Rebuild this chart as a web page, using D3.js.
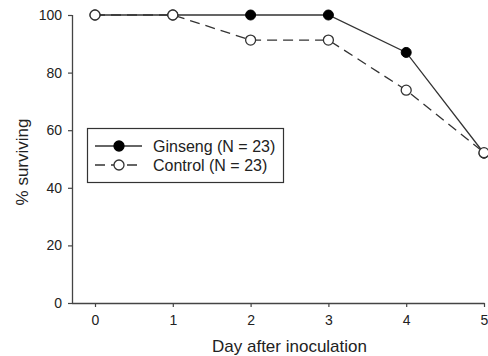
<!DOCTYPE html>
<html><head><meta charset="utf-8">
<script src="https://cdn.jsdelivr.net/npm/d3@7"></script>
<style>body{margin:0;background:#fff}svg{display:block}text{font-family:"Liberation Sans",Arial,sans-serif;fill:#222}</style>
</head><body>
<script>
const days = [0, 1, 2, 3, 4, 5];
const ginseng = [100, 100, 100, 100, 87, 52];
const control = [100, 100, 91.3, 91.3, 73.9, 52.2];
const yTicks = [0, 20, 40, 60, 80, 100];
const xTicks = [0, 1, 2, 3, 4, 5];
const seriesNames = ["Ginseng (N = 23)", "Control (N = 23)"];

const W = 488, H = 356;
const svg = d3.select("body").append("svg").attr("width", W).attr("height", H);
const x = d3.scaleLinear().domain([0, 5]).range([95, 484]);
const y = d3.scaleLinear().domain([0, 100]).range([303, 15]);
const axisColor = "#444";

// axes
const gx = svg.append("g").attr("transform", "translate(0,303)")
  .call(d3.axisBottom(x).tickValues(xTicks).tickSize(4).tickPadding(8).tickFormat(d3.format("d")));
gx.select(".domain").attr("d", "M72,0.5H484.5");
const gy = svg.append("g").attr("transform", "translate(72,0)")
  .call(d3.axisLeft(y).tickValues(yTicks).tickSize(4).tickPadding(6).tickFormat(d3.format("d")));
gy.select(".domain").attr("d", "M0.5,15V303.5");
svg.selectAll(".domain").attr("stroke", axisColor).attr("stroke-width", 1.3);
svg.selectAll(".tick line").attr("stroke", axisColor).attr("stroke-width", 1.2);
svg.selectAll(".tick text").attr("font-size", 14).attr("fill", "#222")
  .attr("font-family", '"Liberation Sans",Arial,sans-serif');

// titles
svg.append("text").attr("x", (x(0) + x(5)) / 2).attr("y", 352).attr("text-anchor", "middle")
  .attr("font-size", 17).text("Day after inoculation");
svg.append("text").attr("transform", "translate(28,162) rotate(-90)").attr("text-anchor", "middle")
  .attr("font-size", 17).text("% surviving");

const line = d3.line().x((d, i) => x(days[i])).y(d => y(d));
const lineColor = "#333";

// ginseng series
svg.append("path").datum(ginseng).attr("d", line).attr("fill", "none")
  .attr("stroke", lineColor).attr("stroke-width", 1.3);
// control series
svg.append("path").datum(control).attr("d", line).attr("fill", "none")
  .attr("stroke", lineColor).attr("stroke-width", 1.3).attr("stroke-dasharray", "10,6");

svg.append("g").selectAll("circle").data(ginseng).join("circle")
  .attr("cx", (d, i) => x(days[i])).attr("cy", d => y(d)).attr("r", 5)
  .attr("fill", "#000").attr("stroke", "#000");
svg.append("g").selectAll("circle").data(control).join("circle")
  .attr("cx", (d, i) => x(days[i])).attr("cy", d => y(d)).attr("r", 5)
  .attr("fill", "#fff").attr("stroke", "#333").attr("stroke-width", 1.3);

// legend
const lg = svg.append("g");
lg.append("rect").attr("x", 87.5).attr("y", 128.5).attr("width", 196).attr("height", 54)
  .attr("fill", "#fff").attr("stroke", "#333").attr("stroke-width", 1.2);
const rows = [146, 165];
seriesNames.forEach((name, i) => {
  const ry = rows[i];
  lg.append("line").attr("x1", 95).attr("x2", 142).attr("y1", ry).attr("y2", ry)
    .attr("stroke", lineColor).attr("stroke-width", 1.3)
    .attr("stroke-dasharray", i === 1 ? "10,6" : null);
  lg.append("circle").attr("cx", 119).attr("cy", ry).attr("r", 5)
    .attr("fill", i === 0 ? "#000" : "#fff").attr("stroke", i === 0 ? "#000" : "#333").attr("stroke-width", 1.3);
  lg.append("text").attr("x", 153).attr("y", ry).attr("dy", "0.35em").attr("font-size", 16).text(name);
});
</script>
</body></html>
